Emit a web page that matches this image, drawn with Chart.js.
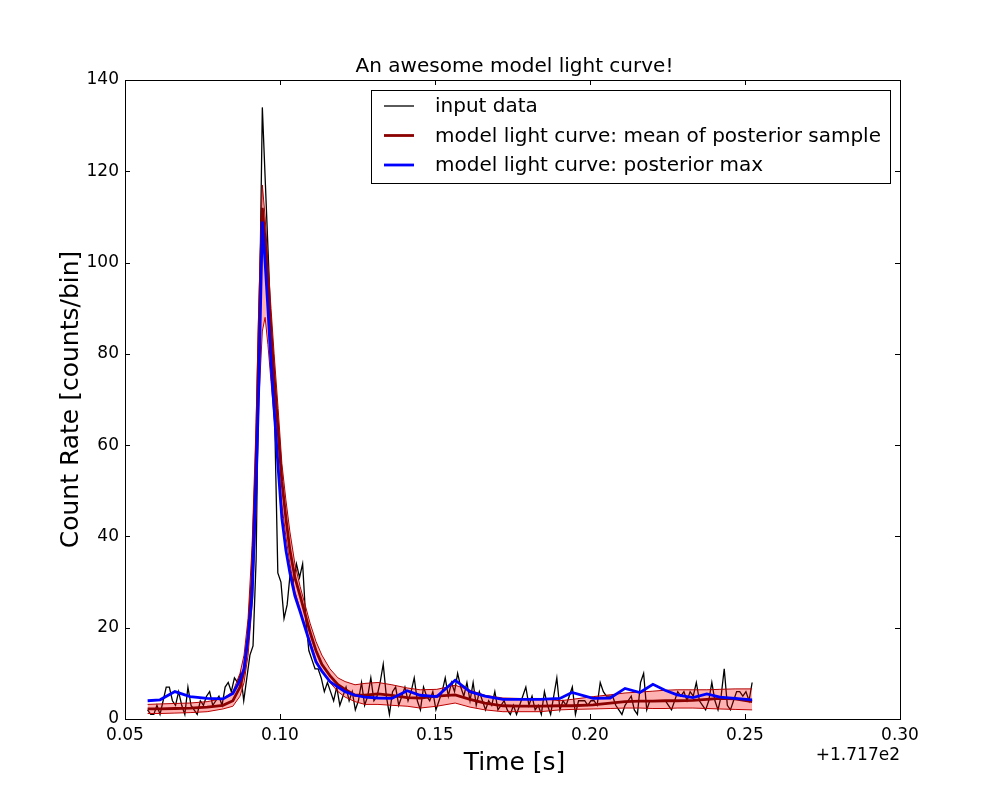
<!DOCTYPE html>
<html>
<head>
<meta charset="utf-8">
<script src="https://cdn.jsdelivr.net/npm/chart.js@4.4.0/dist/chart.umd.min.js"></script>
<style>
  html, body { margin: 0; padding: 0; background: #fff; }
  #wrap { width: 1000px; height: 800px; }
</style>
</head>
<body>
<div id="wrap"><canvas id="lc" width="1000" height="800"></canvas></div>
<script>
// binned input light curve (1 ms bins, offset +171.7 s)
const binStart = 0.0573;
const binWidth = 0.001;
const counts = [
  2, 1, 1, 3, 1, 4, 7, 7, 4, 3,
  6, 3, 1, 7, 3, 2, 1, 4, 3, 5,
  6, 3, 4, 5, 3, 7, 8, 6, 9, 8,
  10, 4, 9, 14, 16, 35, 85, 134, 117, 100,
  82, 65, 32, 30, 22, 25, 32, 30, 34, 31,
  34, 22, 15, 13, 11, 11, 9, 6, 8, 6,
  4, 7, 3, 5, 7, 4, 6, 2, 4, 8,
  3, 5, 9, 4, 5, 8, 12, 5, 1, 6,
  7, 3, 5, 7, 4, 6, 9, 4, 2, 7,
  5, 4, 6, 2, 4, 6, 9, 5, 8, 6,
  10, 7, 5, 8, 4, 8, 3, 6, 4, 2,
  4, 3, 6, 2, 3, 4, 2, 1, 3, 1,
  3, 5, 7, 3, 5, 2, 3, 1, 6, 3,
  1, 5, 9, 2, 4, 3, 5, 7, 1, 4,
  4, 4, 3, 4, 4, 3, 8, 6, 5, 5,
  5, 3, 2, 1, 3, 4, 5, 2, 1, 8,
  10, 2, 4, 4, 4, 4, 4, 4, 3, 2,
  4, 6, 5, 6, 4, 6, 5, 8, 4, 3,
  2, 4, 8, 4, 2, 5, 11, 3, 2, 4,
  6, 6, 5, 6, 4, 8
];

// model curves, sampled on their own time grid
const modelTimes = [
  0.0573, 0.0613, 0.0661, 0.0710, 0.0765, 0.0816, 0.0848, 0.0871, 0.0884, 0.0897,
  0.0910, 0.0923, 0.0932, 0.0943, 0.0952, 0.0961, 0.0971, 0.0981, 0.0994, 0.1006,
  0.1019, 0.1032, 0.1048, 0.1065, 0.1081, 0.1097, 0.1116, 0.1135, 0.1161, 0.1187,
  0.1210, 0.1242, 0.1274, 0.1316, 0.1361, 0.1410, 0.1452, 0.1506, 0.1565, 0.1613,
  0.1661, 0.1719, 0.1774, 0.1839, 0.1903, 0.1942, 0.2010, 0.2065, 0.2113, 0.2161,
  0.2203, 0.2242, 0.2281, 0.2332, 0.2377, 0.2419, 0.2468, 0.2523
];
const posteriorMax = [
  4.0, 4.2, 6.0, 4.9, 4.5, 4.4, 5.6, 8.5, 11, 18,
  27, 52, 74, 109, 100, 90, 78, 68, 55, 44,
  37, 32, 27, 23.5, 20, 16.5, 12.5, 10.5, 8.2, 7,
  6, 5.2, 4.8, 4.6, 4.5, 6.2, 5.2, 4.9, 8.5, 6,
  5, 4.3, 4.3, 4.3, 4.5, 5.8, 4.5, 4.6, 6.7, 5.8,
  7.6, 6.3, 5.3, 4.7, 5.5, 4.8, 4.5, 4.2
];
const posteriorMean = [
  2.2, 2.2, 2.3, 2.4, 2.6, 3.0, 4.0, 7.0, 10.5, 18,
  31, 56, 84, 112, 105, 95, 85, 75, 63, 52,
  44, 37, 31, 27, 23, 19, 15, 12, 9.5, 7.5,
  6.5, 5.2, 5.2, 5.5, 5.2, 4.7, 4.6, 5.0, 5.3, 4.3,
  3.5, 2.9, 2.8, 2.8, 2.9, 2.9, 3.1, 3.5, 3.8, 3.9,
  3.9, 4.0, 4.0, 4.1, 4.3, 4.5, 4.4, 3.8
];
const bandUpper = [
  3.2, 3.3, 3.4, 3.5, 3.8, 4.5, 6, 10, 14, 22,
  38, 65, 92, 117, 110, 100, 90, 80, 68, 56,
  48, 41, 34, 29, 25, 21, 17, 14, 11, 9,
  8.2, 7.5, 7.8, 8, 7.5, 6.8, 6.4, 6.5, 7.4, 6.3,
  5.2, 4.6, 4.5, 4.5, 4.0, 4.3, 4.9, 5.3, 5.7, 5.9,
  6.1, 6.3, 6.4, 6.4, 6.4, 6.5, 6.6, 6.6
];
const bandLower = [
  1.2, 1.2, 1.3, 1.4, 1.6, 2.2, 2.8, 5, 8, 14,
  25, 45, 70, 85, 88, 82, 74, 66, 56, 47,
  40, 34, 28, 24, 20, 17, 13, 10.5, 8, 6,
  4.8, 3.8, 3.2, 3.2, 3.0, 2.8, 2.4, 2.8, 3.5, 2.6,
  2.0, 1.6, 1.6, 1.6, 2.0, 2.1, 2.2, 2.3, 2.4, 2.4,
  2.3, 2.3, 2.4, 2.4, 2.3, 2.2, 2.1, 2.0
];

const xTicks = [0.05, 0.10, 0.15, 0.20, 0.25, 0.30];
const yTicks = [0, 20, 40, 60, 80, 100, 120, 140];
const offsetLabel = '+1.717e2';

const FONT = "'DejaVu Sans', 'Liberation Sans', sans-serif";

const pts = (xs, ys) => xs.map((t, i) => ({ x: t, y: ys[i] }));
const dataPts = counts.map((c, i) => ({ x: binStart + i * binWidth, y: c }));

// frame, inward ticks, titles and legend in the old matplotlib look
const mplPlugin = {
  id: 'mpl',
  afterDraw(chart) {
    const { ctx, chartArea: a, scales: { x, y } } = chart;
    ctx.save();
    ctx.strokeStyle = '#000';
    ctx.lineWidth = 1;
    ctx.strokeRect(a.left + 0.5, a.top + 0.5, a.right - a.left, a.bottom - a.top);

    ctx.beginPath();
    xTicks.forEach(v => {
      const px = Math.round(x.getPixelForValue(v)) + 0.5;
      ctx.moveTo(px, a.bottom); ctx.lineTo(px, a.bottom - 5);
      ctx.moveTo(px, a.top); ctx.lineTo(px, a.top + 5);
    });
    yTicks.forEach(v => {
      const py = Math.round(y.getPixelForValue(v)) + 0.5;
      ctx.moveTo(a.left, py); ctx.lineTo(a.left + 5, py);
      ctx.moveTo(a.right, py); ctx.lineTo(a.right - 5, py);
    });
    ctx.stroke();

    ctx.fillStyle = '#000';
    ctx.textAlign = 'center';
    ctx.textBaseline = 'middle';
    ctx.font = `20px ${FONT}`;
    ctx.fillText('An awesome model light curve!', (a.left + a.right) / 2 + 2, 67);

    ctx.font = `25px ${FONT}`;
    ctx.fillText('Time [s]', (a.left + a.right) / 2 + 2, 763);
    ctx.save();
    ctx.translate(71, (a.top + a.bottom) / 2);
    ctx.rotate(-Math.PI / 2);
    ctx.fillText('Count Rate [counts/bin]', 0, 0);
    ctx.restore();

    ctx.font = `17px ${FONT}`;
    ctx.textAlign = 'right';
    ctx.fillText(offsetLabel, a.right, 756);

    // legend
    const lx = 371, ly = 90, lw = 519, lh = 93;
    ctx.fillStyle = '#fff';
    ctx.fillRect(lx + 0.5, ly + 0.5, lw, lh);
    ctx.strokeRect(lx + 0.5, ly + 0.5, lw, lh);
    ctx.font = `20px ${FONT}`;
    ctx.textAlign = 'left';
    const items = [0, 1, 4].map(i => chart.data.datasets[i]);
    items.forEach((ds, i) => {
      const ry = 106 + i * 29.5;
      ctx.strokeStyle = ds.borderColor;
      ctx.lineWidth = ds.borderWidth;
      ctx.beginPath();
      ctx.moveTo(384, ry); ctx.lineTo(414, ry);
      ctx.stroke();
      ctx.fillStyle = '#000';
      ctx.fillText(ds.label, 435, ry + 1);
    });
    ctx.restore();
  }
};

new Chart(document.getElementById('lc'), {
  type: 'line',
  data: {
    datasets: [
      {
        label: 'input data',
        data: dataPts,
        borderColor: '#000000',
        borderWidth: 1.3,
        order: 4
      },
      {
        label: 'model light curve: mean of posterior sample',
        data: pts(modelTimes, posteriorMean),
        borderColor: '#8b0000',
        borderWidth: 2.8,
        order: 1
      },
      {
        label: 'upper',
        data: pts(modelTimes, bandUpper),
        borderColor: '#b00000',
        borderWidth: 1,
        fill: { target: 3 },
        backgroundColor: 'rgba(255, 0, 0, 0.3)',
        order: 2
      },
      {
        label: 'lower',
        data: pts(modelTimes, bandLower),
        borderColor: '#b00000',
        borderWidth: 1,
        order: 3
      },
      {
        label: 'model light curve: posterior max',
        data: pts(modelTimes, posteriorMax),
        borderColor: '#0000ff',
        borderWidth: 2.8,
        order: 0
      }
    ]
  },
  options: {
    responsive: false,
    animation: false,
    devicePixelRatio: 1,
    elements: {
      point: { radius: 0 },
      line: { tension: 0, fill: false }
    },
    layout: { padding: { top: 80, right: 100, bottom: 0, left: 0 } },
    plugins: {
      legend: { display: false },
      title: { display: false },
      tooltip: { enabled: false }
    },
    scales: {
      x: {
        type: 'linear',
        min: 0.05,
        max: 0.30,
        grid: { display: false, drawTicks: false },
        border: { display: false },
        afterBuildTicks: s => { s.ticks = xTicks.map(v => ({ value: v })); },
        afterFit: s => { s.height = 81; },
        ticks: {
          padding: 6,
          color: '#000',
          maxRotation: 0,
          font: { family: FONT, size: 17 },
          callback: v => Number(v).toFixed(2)
        }
      },
      y: {
        type: 'linear',
        min: 0,
        max: 140,
        grid: { display: false, drawTicks: false },
        border: { display: false },
        afterBuildTicks: s => { s.ticks = yTicks.map(v => ({ value: v })); },
        afterFit: s => { s.width = 125; },
        ticks: {
          padding: 6,
          color: '#000',
          font: { family: FONT, size: 17 }
        }
      }
    }
  },
  plugins: [mplPlugin]
});
</script>
</body>
</html>
